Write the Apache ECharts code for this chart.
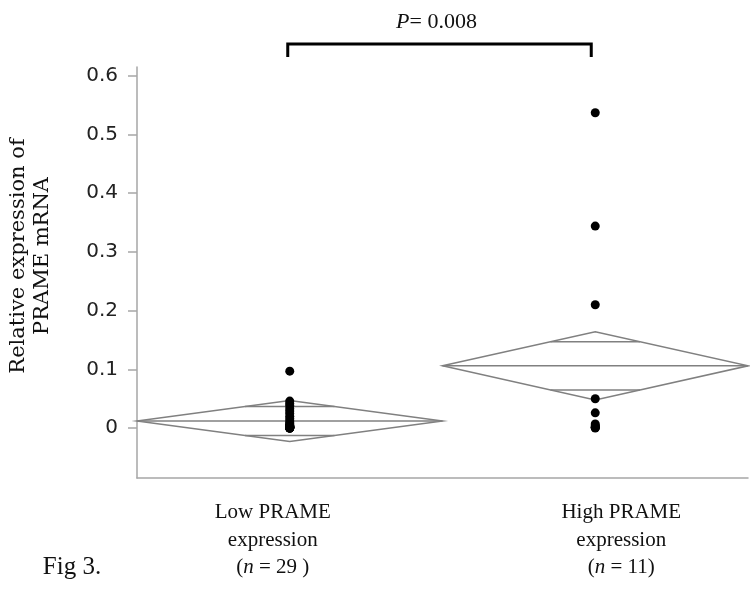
<!DOCTYPE html>
<html><head><meta charset="utf-8">
<script src="https://cdn.jsdelivr.net/npm/echarts@6/dist/echarts.min.js"></script>
<style>html,body{margin:0;padding:0;background:#fff}#c{width:750px;height:592px}</style>
</head><body><div id="c"></div>
<script>
const categories = ['Low PRAME expression', 'High PRAME expression'];
const groupSizes = [29, 11];
const lowValues = [0.097, 0.046, 0.042, 0.038, 0.033, 0.029, 0.025, 0.020, 0.016, 0.012, 0.009, 0.007, 0.005, 0.004, 0.003, 0.003, 0.002, 0.002, 0.002, 0.001, 0.001, 0.001, 0.001, 0.001, 0.0, 0.0, 0.0, 0.0, 0.0];
const highValues = [0.537, 0.344, 0.210, 0.050, 0.026, 0.007, 0.004, 0.002, 0.001, 0.001, 0.0];
const groupMeans = [0.012, 0.106];
const ciHalfWidths = [0.035, 0.058];
const yTicks = [0, 0.1, 0.2, 0.3, 0.4, 0.5, 0.6];
const pValue = '0.008';

const chart = echarts.init(document.getElementById('c'), null, {renderer: 'canvas'});
const axisGray = '#a6a6a6';
const diamondStyle = {stroke: '#808080', lineWidth: 1.5, fill: null};

const scatterData = [];
lowValues.forEach(v => scatterData.push([0, v]));
highValues.forEach(v => scatterData.push([1, v]));
const diamondData = groupMeans.map((m, i) => [i, m, ciHalfWidths[i]]);

chart.setOption({
  animation: false,
  backgroundColor: '#fff',
  grid: {left: 137, right: 2, top: 67, bottom: 114, containLabel: false},
  xAxis: {
    type: 'category', data: categories, boundaryGap: true,
    axisLine: {show: true, onZero: false, lineStyle: {color: axisGray, width: 1.5}},
    axisTick: {show: false}, axisLabel: {show: false}, splitLine: {show: false}
  },
  yAxis: {
    type: 'value', min: -0.085, max: 0.615,
    axisLine: {show: true, lineStyle: {color: axisGray, width: 1.5}},
    axisTick: {show: true, length: 9, lineStyle: {color: axisGray, width: 1.5}, customValues: yTicks},
    axisLabel: {show: true, margin: 19, color: '#222', fontFamily: 'DejaVu Sans', fontSize: 20,
      customValues: yTicks, formatter: v => (Math.round(v * 10) / 10).toString()},
    splitLine: {show: false}
  },
  series: [
    {
      type: 'custom', z: 1,
      renderItem: function (params, api) {
        const ci = api.value(0), mean = api.value(1), half = api.value(2);
        const c = api.coord([ci, mean]);
        const hw = api.size([1, 0])[0] / 2;
        const top = api.coord([ci, mean + half])[1];
        const bot = api.coord([ci, mean - half])[1];
        const o = half / Math.SQRT2;
        const oTop = api.coord([ci, mean + o])[1];
        const oBot = api.coord([ci, mean - o])[1];
        const ow = hw * (1 - 1 / Math.SQRT2);
        return {type: 'group', children: [
          {type: 'polygon', shape: {points: [[c[0] - hw, c[1]], [c[0], top], [c[0] + hw, c[1]], [c[0], bot]]}, style: diamondStyle},
          {type: 'line', shape: {x1: c[0] - hw, y1: c[1], x2: c[0] + hw, y2: c[1]}, style: diamondStyle},
          {type: 'line', shape: {x1: c[0] - ow, y1: oTop, x2: c[0] + ow, y2: oTop}, style: diamondStyle},
          {type: 'line', shape: {x1: c[0] - ow, y1: oBot, x2: c[0] + ow, y2: oBot}, style: diamondStyle}
        ]};
      },
      data: diamondData
    },
    {
      type: 'scatter', z: 3, symbol: 'circle', symbolSize: 9,
      itemStyle: {color: '#000', opacity: 1}, data: scatterData
    }
  ]
});

const x0 = chart.convertToPixel({xAxisIndex: 0}, 0);
const x1 = chart.convertToPixel({xAxisIndex: 0}, 1);
const serif = 'Liberation Serif';
const txt = (x, y, text, size, extra) => Object.assign({
  type: 'text', x: x, y: y,
  style: {text: text, font: size + 'px "' + serif + '"', fill: '#111', textAlign: 'center', textVerticalAlign: 'middle'}
}, extra || {});

chart.setOption({
  graphic: [
    {type: 'polyline', shape: {points: [[x0 - 2, 57], [x0 - 2, 44], [x1 - 4, 44], [x1 - 4, 57]]},
     style: {stroke: '#000', lineWidth: 3, fill: null}},
    {type: 'text', x: (x0 + x1) / 2 - 6, y: 22,
     style: {text: '{i|P}{r|= ' + pValue + '}', textAlign: 'center', textVerticalAlign: 'middle',
       rich: {i: {font: 'italic 22px "' + serif + '"', fill: '#111'}, r: {font: '22px "' + serif + '"', fill: '#111'}}}},
    {type: 'text', x: 31, y: 256, rotation: Math.PI / 2,
     style: {text: 'Relative expression of\nPRAME mRNA', font: '21px "DejaVu Serif"', fill: '#111',
       textAlign: 'center', textVerticalAlign: 'middle', lineHeight: 24}},
    txt(x0 - 17, 512, 'Low PRAME', 21),
    txt(x0 - 17, 540, 'expression', 21),
    {type: 'text', x: x0 - 17, y: 567, style: {text: '({i|n}{r| = ' + groupSizes[0] + ' )}', textAlign: 'center', textVerticalAlign: 'middle',
      rich: {i: {font: 'italic 21px "' + serif + '"', fill: '#111'}, r: {font: '21px "' + serif + '"', fill: '#111'}}, font: '21px "' + serif + '"', fill: '#111'}},
    txt(x1 + 26, 512, 'High PRAME', 21),
    txt(x1 + 26, 540, 'expression', 21),
    {type: 'text', x: x1 + 26, y: 567, style: {text: '({i|n}{r| = ' + groupSizes[1] + ')}', textAlign: 'center', textVerticalAlign: 'middle',
      rich: {i: {font: 'italic 21px "' + serif + '"', fill: '#111'}, r: {font: '21px "' + serif + '"', fill: '#111'}}, font: '21px "' + serif + '"', fill: '#111'}},
    txt(72, 567, 'Fig 3.', 25)
  ]
});
</script></body></html>
